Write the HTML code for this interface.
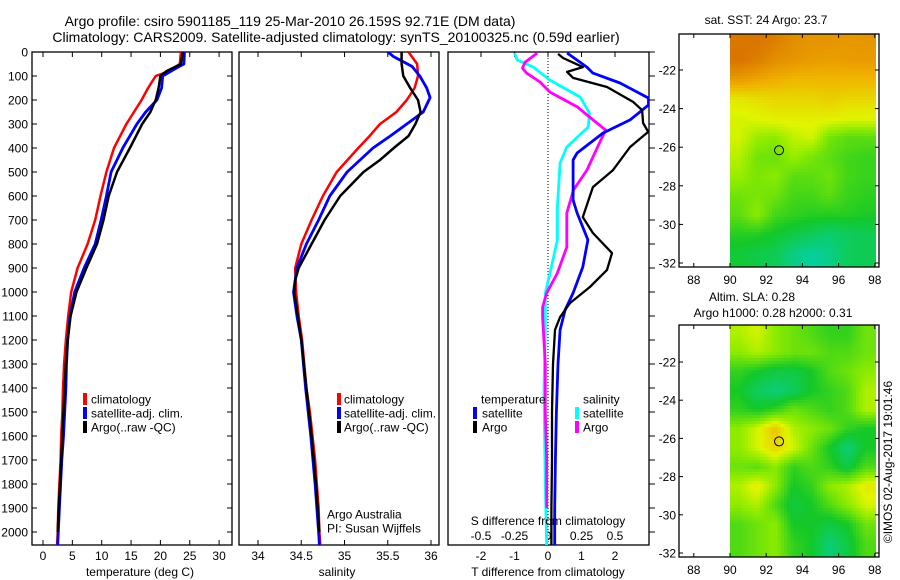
<!DOCTYPE html>
<html><head><meta charset="utf-8">
<style>
html,body{margin:0;padding:0;background:#fff;}
svg{display:block;font-family:"Liberation Sans",sans-serif;}
text{fill:#000;}
</style></head>
<body>
<svg id="c" width="900" height="580" viewBox="0 0 900 580" xmlns="http://www.w3.org/2000/svg">
<defs>
<clipPath id="cp1"><rect x="32" y="52" width="200" height="493"/></clipPath>
<clipPath id="cp2"><rect x="239" y="52" width="200" height="493"/></clipPath>
<clipPath id="cp3"><rect x="448" y="52" width="201" height="493"/></clipPath>
<clipPath id="cm1"><rect x="730" y="34" width="146" height="233"/></clipPath>
<clipPath id="cm2"><rect x="730" y="325" width="146" height="232"/></clipPath>
</defs>
<text x="290" y="26" font-size="14" text-anchor="middle">Argo profile: csiro 5901185_119 25-Mar-2010 26.159S 92.71E (DM data)</text>
<text x="336" y="42" font-size="14" text-anchor="middle">Climatology: CARS2009. Satellite-adjusted climatology: synTS_20100325.nc (0.59d earlier)</text>
<g id="g"></g>
</svg>
<script>
// ---------- data ----------
const depthTicks=[0,100,200,300,400,500,600,700,800,900,1000,1100,1200,1300,1400,1500,1600,1700,1800,1900,2000];
const tempTicks=[0,5,10,15,20,25,30];
const salTicks=[34,34.5,35,35.5,36];
const salTickLabels=["34","34.5","35","35.5","36"];
const dTTicks=[-2,-1,0,1,2];
const dSTicks=[-0.5,-0.25,0,0.25,0.5];
const dSTickLabels=["-0.5","-0.25","0","0.25","0.5"];

const tClimDepth=[0,50,80,100,150,200,300,400,500,600,700,800,900,1000,1100,1200,1300,1400,1500,1600,1700,1800,1900,2000,2054];
const tClim=[23.5,23.3,21.5,19.2,17.9,16.8,14.2,12.1,10.8,9.8,8.9,7.6,5.9,4.8,4.3,3.9,3.6,3.4,3.3,3.1,3.0,2.8,2.6,2.5,2.4];
const tSatDepth=[0,50,70,100,150,200,250,300,400,500,600,700,800,900,1000,1100,1200,1300,1400,1500,1600,1700,1800,1900,2000,2054];
const tSat=[24.1,24.0,22.5,20.4,20.2,19.4,17.5,16.0,13.6,11.6,10.8,9.9,8.9,7.0,5.4,4.6,4.2,4.0,3.9,3.7,3.5,3.2,3.0,2.8,2.6,2.5];
const tArgoDepth=[0,50,80,100,150,200,250,300,400,500,600,700,800,900,1000,1100,1200,1300,1400,1500,1600,1700,1800,1900,2000];
const tArgo=[23.8,23.5,21,20,19.7,19.2,18.3,16.9,14.8,12.6,11.2,10.3,9.2,7.4,5.7,4.7,4.2,3.9,3.7,3.5,3.3,3.1,2.9,2.7,2.5];

const sClimDepth=[0,50,100,150,200,250,300,350,400,500,600,700,800,900,1000,1100,1200,1400,1500,1600,1700,1800,1900,2000,2054];
const sClim=[35.74,35.84,35.85,35.81,35.72,35.6,35.41,35.29,35.16,34.91,34.75,34.62,34.5,34.43,34.44,34.47,34.51,34.56,34.6,34.63,34.66,34.68,34.7,34.71,34.72];
const sSatDepth=[0,20,60,100,150,190,250,300,350,400,500,600,700,800,900,1000,1100,1200,1400,1600,1800,2000,2054];
const sSat=[35.5,35.57,35.78,35.87,35.95,35.99,35.91,35.72,35.53,35.33,35.03,34.83,34.7,34.56,34.45,34.41,34.45,34.5,34.55,34.61,34.66,34.7,34.71];
const sArgoDepth=[0,50,100,150,200,250,300,350,400,450,500,600,700,800,900,950,1000,1100,1200,1400,1600,1800,2000];
const sArgo=[35.66,35.66,35.68,35.76,35.85,35.88,35.82,35.74,35.57,35.41,35.22,34.95,34.77,34.62,34.47,34.43,34.42,34.46,34.5,34.56,34.62,34.67,34.71];

const dTArgoDepth=[8,25,63,83,108,146,208,242,296,333,396,492,563,688,754,838,908,979,1046,1104,1158,1300,1500,1700,1900,2054];
const dTArgo=[0.3,0.45,1.04,0.57,0.75,1.76,2.54,2.81,2.84,2.99,2.45,1.94,1.34,1.04,1.34,1.91,1.76,1.25,0.66,0.36,0.21,0.15,0.12,0.12,0.1,0.1];
const dTSatDepth=[4,63,88,129,192,221,283,338,421,450,617,671,783,896,1004,1075,1158,1300,1500,1700,1900,2054];
const dTSat=[0.57,1.16,1.34,2.15,3.0,3.0,2.45,1.64,0.87,0.75,0.75,0.87,1.19,1.04,0.75,0.51,0.36,0.3,0.25,0.22,0.2,0.2];
const dSSatDepth=[4,33,63,117,188,254,313,396,463,646,783,921,1004,1171,1400,1600,1800,2054];
const dSSat=[-0.25,-0.23,-0.11,0.015,0.24,0.31,0.30,0.14,0.09,0.07,0.07,0.015,-0.02,-0.02,-0.03,-0.025,-0.02,-0.01];
const dSArgoDepth=[4,42,67,88,125,167,229,271,325,396,492,575,671,813,921,1004,1063,1104,1300,1500,1700,1900];
const dSArgo=[-0.08,-0.17,-0.19,-0.16,-0.06,0.015,0.22,0.31,0.43,0.37,0.29,0.19,0.14,0.14,0.07,-0.01,-0.04,-0.04,-0.02,-0.02,-0.01,-0.01];

const mapLons=[90.5,91.5,92.5,93.5,94.5,95.5,96.5,97.5];
const mapLats=[-20.5,-21.5,-22.5,-23.5,-24.5,-25.5,-26.5,-27.5,-28.5,-29.5,-30.5,-31.5];
const sstGrid=[
[0.97,0.98,0.95,0.9,0.88,0.88,0.87,0.88],
[0.98,0.95,0.9,0.88,0.86,0.85,0.86,0.86],
[0.86,0.83,0.8,0.78,0.78,0.78,0.78,0.78],
[0.66,0.68,0.7,0.7,0.7,0.72,0.7,0.7],
[0.6,0.62,0.64,0.64,0.64,0.64,0.62,0.62],
[0.6,0.52,0.5,0.57,0.6,0.46,0.42,0.42],
[0.56,0.46,0.44,0.52,0.47,0.42,0.38,0.36],
[0.52,0.47,0.5,0.42,0.42,0.45,0.38,0.36],
[0.45,0.47,0.45,0.38,0.38,0.42,0.36,0.34],
[0.42,0.5,0.38,0.35,0.33,0.33,0.33,0.31],
[0.33,0.33,0.29,0.25,0.22,0.17,0.2,0.22],
[0.27,0.24,0.22,0.13,0.08,0.12,0.2,0.22]];
const slaGrid=[
[0.55,0.6,0.5,0.45,0.4,0.35,0.35,0.45],
[0.5,0.55,0.5,0.45,0.45,0.4,0.4,0.45],
[0.35,0.3,0.25,0.25,0.3,0.4,0.45,0.5],
[0.3,0.2,0.15,0.2,0.3,0.35,0.4,0.55],
[0.35,0.3,0.35,0.45,0.4,0.35,0.4,0.55],
[0.5,0.6,0.75,0.55,0.5,0.45,0.35,0.3],
[0.5,0.6,0.7,0.6,0.45,0.3,0.15,0.3],
[0.45,0.42,0.5,0.35,0.4,0.35,0.25,0.4],
[0.55,0.65,0.5,0.3,0.35,0.5,0.55,0.65],
[0.5,0.55,0.4,0.25,0.3,0.4,0.5,0.6],
[0.4,0.45,0.5,0.3,0.3,0.25,0.3,0.45],
[0.4,0.45,0.5,0.35,0.3,0.15,0.25,0.4]];
const mapLonTicks=[88,90,92,94,96,98];
const mapLatTicks=[-22,-24,-26,-28,-30,-32];
const argoLon=92.71, argoLat=-26.159;

// ---------- scales ----------
const yD=d=>52+d*0.24;
const xT=t=>43+t*5.87;
const xS=s=>258+(s-34)*86.5;
const xdT=t=>548+t*33.5;
const xdS=s=>548+s*134;
const mx=lon=>730+(lon-90)*18.1;
const my1=lat=>70+(-22-lat)*19.3;
const my2=lat=>362+(-22-lat)*19.1;

const NS='http://www.w3.org/2000/svg';
const G=document.getElementById('g');
function el(tag,attrs,parent,txt){const e=document.createElementNS(NS,tag);for(const k in attrs)e.setAttribute(k,attrs[k]);if(txt!==undefined)e.textContent=txt;(parent||G).appendChild(e);return e;}

function line(depths,vals,xf,color,w,clip,name){
  const pts=depths.map((d,i)=>xf(vals[i]).toFixed(1)+','+yD(d).toFixed(1)).join(' ');
  const p=el('polyline',{points:pts,fill:'none',stroke:color,'stroke-width':w,'stroke-linejoin':'round','clip-path':'url(#'+clip+')'});
  
  
}
function frame(x,y,w,h,name){
  const r=el('rect',{x:x,y:y,width:w,height:h,fill:'none',stroke:'#000','stroke-width':1.3});
  
  
}
function txt(x,y,s,size,anchor,name,extra){
  const t=el('text',Object.assign({x:x,y:y,'font-size':size,'text-anchor':anchor||'start'},extra||{}),G,s);
  
  
  return t;
}
function legendMark(x,y,color,name){
  const r=el('rect',{x:x,y:y-6,width:4,height:12,fill:color});
  
  
}

// ---------- panel 1: temperature ----------
frame(32,52,200,493,'temperature-plot-frame');
depthTicks.forEach(d=>{
  const y=yD(d);
  el('line',{x1:32,y1:y,x2:37,y2:y,stroke:'#000'});
  el('line',{x1:227,y1:y,x2:232,y2:y,stroke:'#000'});
  txt(28,y+4.5,String(d),12,'end','depth-tick-label');
});
tempTicks.forEach(t=>{
  const x=xT(t);
  el('line',{x1:x,y1:52,x2:x,y2:57,stroke:'#000'});
  el('line',{x1:x,y1:540,x2:x,y2:545,stroke:'#000'});
  txt(x,560,String(t),12,'middle','temperature-tick-label');
});
txt(140,576,'temperature (deg C)',12,'middle','temperature-axis-title');
line(tClimDepth,tClim,xT,'#ff0000',2.5,'cp1','temp-climatology-line');
line(tSatDepth,tSat,xT,'#0000ff',2.8,'cp1','temp-satellite-line');
line(tArgoDepth,tArgo,xT,'#000000',2.5,'cp1','temp-argo-line');
legendMark(83,399,'#ff0000','legend-climatology-marker');
txt(91,403.5,'climatology',12,'start','legend-climatology');
legendMark(83,413,'#0000ff','legend-satellite-marker');
txt(91,417.5,'satellite-adj. clim.',12,'start','legend-satellite');
legendMark(83,427,'#000000','legend-argo-marker');
txt(91,431.5,'Argo(..raw -QC)',12,'start','legend-argo');

// ---------- panel 2: salinity ----------
frame(239,52,200,493,'salinity-plot-frame');
salTicks.forEach((s,i)=>{
  const x=xS(s);
  el('line',{x1:x,y1:52,x2:x,y2:57,stroke:'#000'});
  el('line',{x1:x,y1:540,x2:x,y2:545,stroke:'#000'});
  txt(x,560,salTickLabels[i],12,'middle','salinity-tick-label');
});
txt(337,576,'salinity',12,'middle','salinity-axis-title');
line(sClimDepth,sClim,xS,'#ff0000',2.5,'cp2','sal-climatology-line');
line(sSatDepth,sSat,xS,'#0000ff',2.8,'cp2','sal-satellite-line');
line(sArgoDepth,sArgo,xS,'#000000',2.5,'cp2','sal-argo-line');
legendMark(337,399,'#ff0000','legend2-climatology-marker');
txt(344,403.5,'climatology',12,'start','legend2-climatology');
legendMark(337,413,'#0000ff','legend2-satellite-marker');
txt(344,417.5,'satellite-adj. clim.',12,'start','legend2-satellite');
legendMark(337,427,'#000000','legend2-argo-marker');
txt(344,431.5,'Argo(..raw -QC)',12,'start','legend2-argo');
txt(327,518.5,'Argo Australia',12,'start','credit-argo-australia');
txt(327,532.5,'PI: Susan Wijffels',12,'start','credit-pi');

// ---------- panel 3: differences ----------
frame(448,52,201,493,'difference-plot-frame');
depthTicks.forEach(d=>{const y=yD(d);el('line',{x1:649,y1:y,x2:655,y2:y,stroke:'#000'});});
el('line',{x1:548,y1:52,x2:548,y2:545,stroke:'#000','stroke-dasharray':'1,2'});
dTTicks.forEach(t=>{
  const x=xdT(t);
  el('line',{x1:x,y1:52,x2:x,y2:57,stroke:'#000'});
  txt(x,560,String(t),12,'middle','t-diff-tick-label');
});
dSTicks.forEach((s,i)=>{txt(xdS(s),540,dSTickLabels[i],12,'middle','s-diff-tick-label');});
line(dSSatDepth,dSSat,xdS,'#00ffff',2.8,'cp3','s-diff-satellite-line');
line(dSArgoDepth,dSArgo,xdS,'#ff00ff',2.8,'cp3','s-diff-argo-line');
line(dTSatDepth,dTSat,xdT,'#0000ff',2.8,'cp3','t-diff-satellite-line');
line(dTArgoDepth,dTArgo,xdT,'#000000',2.3,'cp3','t-diff-argo-line');
txt(548,525,'S difference from climatology',12,'middle','s-diff-axis-title');
txt(548,576,'T difference from climatology',12,'middle','t-diff-axis-title');
txt(481,403.5,'temperature',12,'start','legend3-temperature-heading');
legendMark(473,413,'#0000ff','legend3-t-satellite-marker');
txt(482,417.5,'satellite',12,'start','legend3-t-satellite');
legendMark(473,427,'#000000','legend3-t-argo-marker');
txt(482,431.5,'Argo',12,'start','legend3-t-argo');
txt(583,403.5,'salinity',12,'start','legend3-salinity-heading');
legendMark(575,413,'#00ffff','legend3-s-satellite-marker');
txt(583,417.5,'satellite',12,'start','legend3-s-satellite');
legendMark(575,427,'#ff00ff','legend3-s-argo-marker');
txt(583,431.5,'Argo',12,'start','legend3-s-argo');

// ---------- maps ----------
function cmap(v){
  const stops=[[0,[0,210,200]],[0.3,[20,200,40]],[0.5,[140,235,0]],[0.62,[225,245,0]],[0.8,[240,175,0]],[1,[215,110,0]]];
  v=Math.max(0,Math.min(1,v));
  for(let i=1;i<stops.length;i++){if(v<=stops[i][0]){const a=stops[i-1],b=stops[i],f=(v-a[0])/(b[0]-a[0]);
    return 'rgb('+a[1].map((c,k)=>Math.round(c+(b[1][k]-c)*f)).join(',')+')';}}
  return 'rgb(215,110,0)';
}
function sample(grid,lon,lat){
  // bilinear between cell centres
  let fc=(lon-mapLons[0]); let fr=(mapLats[0]-lat);
  fc=Math.max(0,Math.min(mapLons.length-1,fc)); fr=Math.max(0,Math.min(mapLats.length-1,fr));
  const c0=Math.floor(fc),r0=Math.floor(fr),c1=Math.min(c0+1,mapLons.length-1),r1=Math.min(r0+1,mapLats.length-1);
  const u=fc-c0,w=fr-r0;
  return grid[r0][c0]*(1-u)*(1-w)+grid[r0][c1]*u*(1-w)+grid[r1][c0]*(1-u)*w+grid[r1][c1]*u*w;
}
function drawMap(grid,myf,top,bottom,clip,name){
  const gg=el('g',{'clip-path':'url(#'+clip+')'});
  
  
  const step=3;
  const latOf=y=>{const a=myf(-22),b=myf(-32);return -22-(y-a)/(b-a)*10;};
  for(let y=top;y<bottom;y+=step){
    for(let x=730;x<877;x+=step){
      const lon=90+(x+step/2-730)/18.1, lat=latOf(y+step/2);
      const cell=el('rect',{x:x,y:y,width:step+0.4,height:step+0.4,fill:cmap(sample(grid,lon,lat))},gg);
      
      
    }
  }
  frame(679,top,200,bottom-top,name+'-frame');
  mapLonTicks.forEach(l=>{const x=mx(l);
    el('line',{x1:x,y1:top,x2:x,y2:top+4,stroke:'#000'});
    el('line',{x1:x,y1:bottom-4,x2:x,y2:bottom,stroke:'#000'});
    txt(x,bottom+17,String(l),12,'middle','map-lon-tick-label');});
  mapLatTicks.forEach(l=>{const y=myf(l);
    el('line',{x1:679,y1:y,x2:683,y2:y,stroke:'#000'});
    el('line',{x1:875,y1:y,x2:879,y2:y,stroke:'#000'});
    txt(676,y+4.5,String(l),12,'end','map-lat-tick-label');});
  const c=el('circle',{cx:mx(argoLon),cy:myf(argoLat),r:4.5,fill:'none',stroke:'#000','stroke-width':1});
  
  
}
drawMap(sstGrid,my1,34,267,'cm1','sst-map');
drawMap(slaGrid,my2,325,557,'cm2','sla-map');
txt(766,24,'sat. SST: 24 Argo: 23.7',12,'middle','sst-map-title');
txt(752,301,'Altim. SLA: 0.28',12,'middle','sla-map-title-1');
txt(773,317,'Argo h1000: 0.28 h2000: 0.31',12,'middle','sla-map-title-2');
txt(0,0,'©IMOS 02-Aug-2017 19:01:46',12,'middle','timestamp',{transform:'translate(892,462) rotate(-90)'});
</script>
</body></html>
